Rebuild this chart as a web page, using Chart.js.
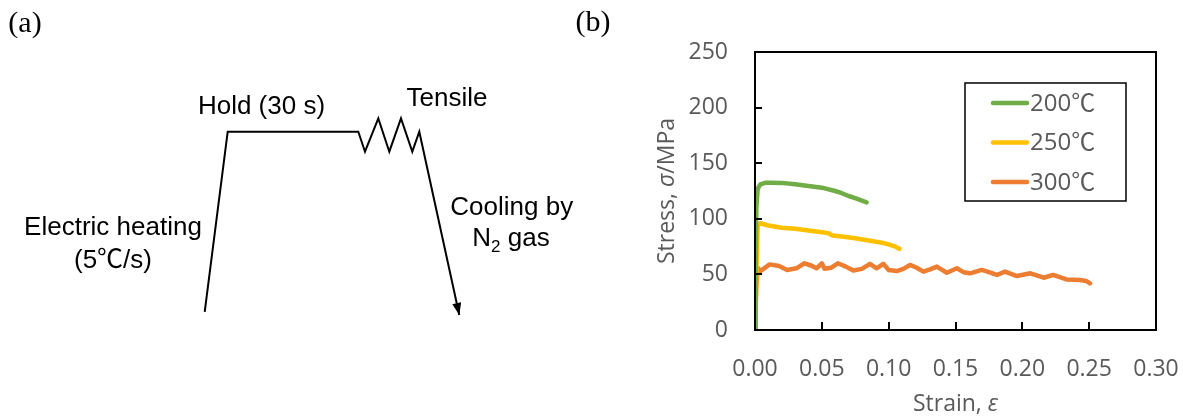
<!DOCTYPE html>
<html>
<head>
<meta charset="utf-8">
<script src="https://cdn.jsdelivr.net/npm/chart.js@4.4.0/dist/chart.umd.min.js"></script>
<style>
  html, body { margin: 0; padding: 0; background: #fff; }
  #wrap { position: relative; width: 1183px; height: 419px; }
  #chartA { position: absolute; left: 0; top: 0; }
  #chartB { position: absolute; left: 560px; top: 0; }
</style>
</head>
<body>
<div id="wrap">
  <canvas id="chartA" width="600" height="419"></canvas>
  <canvas id="chartB" width="623" height="419"></canvas>
</div>
<script>
// (a) process schematic: time offset vs temperature (hold level = 100)
const profileTime = [0, 23, 153.6, 160.3, 173.6, 184.6, 196.3, 207.6, 214.6, 254.6];
const profileTemp = [0, 100, 100, 88.9, 107.4, 88.9, 107.4, 88.9, 100, -1.7];

// labels of the schematic, placed in the same time / temperature units
const noteText = ["Hold (30 s)", "Tensile", "Electric heating", "(5℃/s)", "Cooling by", "N₂ gas"];
const noteTime = [56.8, 242.3, -91.7, -91.7, 307, 306.3];
const noteTemp = [113.7, 118.1, 46.9, 28.3, 57.7, 40.5];

// (b) stress-strain curves
const seriesLabels = ["200℃", "250℃", "300℃"];
const seriesColors = ["#70AD47", "#FFC000", "#ED7D31"];

const strain200 = [0, 0.0005, 0.001, 0.002, 0.004, 0.008, 0.012, 0.02, 0.03, 0.04, 0.05, 0.06, 0.065, 0.07, 0.075, 0.08, 0.0835];
const stress200 = [0, 60, 110, 127, 131, 132.5, 132.5, 132.3, 131, 129.5, 128, 125, 123, 120.5, 118.5, 116.3, 114.8];

const strain250 = [0, 0.001, 0.002, 0.004, 0.01, 0.02, 0.03, 0.04, 0.05, 0.055, 0.058, 0.065, 0.075, 0.085, 0.095, 0.1, 0.105, 0.108];
const stress250 = [0, 50, 94, 96, 94, 92, 91, 89.5, 88, 87, 85, 84, 82.5, 80.5, 78.5, 77, 75, 73];

const strain300 = [0, 0.001, 0.002, 0.004, 0.011, 0.018, 0.024, 0.031, 0.037, 0.042, 0.046, 0.05, 0.052, 0.057, 0.062, 0.068, 0.0735, 0.08, 0.086, 0.091, 0.096, 0.1, 0.106, 0.111, 0.116, 0.121, 0.126, 0.131, 0.136, 0.1435, 0.151, 0.156, 0.161, 0.1696, 0.175, 0.181, 0.187, 0.196, 0.206, 0.216, 0.223, 0.233, 0.243, 0.248, 0.2506];
const stress300 = [0, 40, 56, 53, 59, 57.5, 54, 55.5, 60, 58, 55.5, 60, 55, 56, 60, 57, 53.5, 55, 59.5, 55.5, 59.5, 54, 53, 55, 58.5, 56, 52.5, 54.5, 57, 51.5, 55.5, 52, 51, 54, 52, 49.5, 52.5, 48.5, 51, 47, 49.5, 45.5, 45, 44, 42];

const sansFamily = '"Open Sans", "Noto Sans CJK JP", sans-serif';
const arialFamily = '"Liberation Sans", "Noto Sans CJK JP", sans-serif';
const grey = "#595959";

function toPoints(xs, ys) {
  return xs.map((x, i) => ({ x: x, y: ys[i] }));
}

// draw text made of parts with different fonts, centred on (cx, cy)
function drawParts(ctx, parts, cx, cy) {
  let total = 0;
  parts.forEach(p => { ctx.font = p.font; p.w = ctx.measureText(p.text).width; total += p.w; });
  let x = cx - total / 2;
  ctx.textAlign = "left";
  ctx.textBaseline = "middle";
  parts.forEach(p => {
    ctx.font = p.font;
    ctx.fillText(p.text, x, cy + (p.dy || 0));
    x += p.w;
  });
}

// subscript digits become small lowered digits
function noteParts(text) {
  const parts = [];
  let buf = "";
  for (const ch of text) {
    if (ch === "₂") {
      if (buf) parts.push({ text: buf, font: "26px " + arialFamily });
      buf = "";
      parts.push({ text: "2", font: "17px " + arialFamily, dy: 8 });
    } else {
      buf += ch;
    }
  }
  if (buf) parts.push({ text: buf, font: "26px " + arialFamily });
  return parts;
}

const notesPlugin = {
  id: "notes",
  afterDraw(chart) {
    const ctx = chart.ctx;
    const xs = chart.scales.x, ys = chart.scales.y;
    ctx.save();
    ctx.fillStyle = "#000";
    noteText.forEach((t, i) => {
      drawParts(ctx, noteParts(t), xs.getPixelForValue(noteTime[i]), ys.getPixelForValue(noteTemp[i]));
    });
    ctx.font = '30px "Liberation Serif", serif';
    ctx.textAlign = "center";
    ctx.textBaseline = "middle";
    ctx.fillText("(a)", 25, 24);
    ctx.restore();
  }
};

const arrowPlugin = {
  id: "arrowHead",
  afterDatasetsDraw(chart) {
    const pts = chart.getDatasetMeta(0).data;
    const a = pts[pts.length - 2], b = pts[pts.length - 1];
    const ang = Math.atan2(b.y - a.y, b.x - a.x);
    const len = 12, half = 4.5;
    const ctx = chart.ctx;
    ctx.save();
    ctx.translate(b.x, b.y);
    ctx.rotate(ang);
    ctx.beginPath();
    ctx.moveTo(0, 0);
    ctx.lineTo(-len, -half);
    ctx.lineTo(-len, half);
    ctx.closePath();
    ctx.fillStyle = "#000";
    ctx.fill();
    ctx.restore();
  }
};

new Chart(document.getElementById("chartA"), {
  type: "line",
  data: {
    datasets: [{
      data: toPoints(profileTime, profileTemp),
      borderColor: "#000",
      borderWidth: 2,
      pointRadius: 0,
      tension: 0,
      borderJoinStyle: "miter",
      clip: false
    }]
  },
  options: {
    responsive: false,
    animation: false,
    layout: { padding: 0 },
    plugins: { legend: { display: false }, tooltip: { enabled: false } },
    scales: {
      x: { type: "linear", display: false, min: -204.7, max: 395.3 },
      y: { type: "linear", display: false, min: -59.35, max: 173.04 }
    }
  },
  plugins: [arrowPlugin, notesPlugin]
});

// box round the plot area, ticks pointing inwards
const framePlugin = {
  id: "frame",
  afterDatasetsDraw(chart) {
    const { ctx, chartArea: area, scales } = chart;
    ctx.save();
    ctx.strokeStyle = "#000";
    ctx.lineWidth = 2;
    ctx.strokeRect(area.left, area.top, area.right - area.left, area.bottom - area.top);
    ctx.beginPath();
    scales.x.ticks.forEach(t => {
      const px = Math.round(scales.x.getPixelForValue(t.value));
      ctx.moveTo(px, area.bottom);
      ctx.lineTo(px, area.bottom - 8);
    });
    scales.y.ticks.forEach(t => {
      const py = Math.round(scales.y.getPixelForValue(t.value));
      ctx.moveTo(area.left, py);
      ctx.lineTo(area.left + 7, py);
    });
    ctx.stroke();

    // axis titles
    ctx.fillStyle = grey;
    drawParts(ctx, [
      { text: "Strain, ", font: "23px " + sansFamily },
      { text: "ε", font: "italic 23px " + sansFamily }
    ], (area.left + area.right) / 2, 404);
    ctx.translate(107, (area.top + area.bottom) / 2);
    ctx.rotate(-Math.PI / 2);
    drawParts(ctx, [
      { text: "Stress, ", font: "23px " + sansFamily },
      { text: "σ", font: "italic 23px " + sansFamily },
      { text: "/MPa", font: "23px " + sansFamily }
    ], 0, 0);
    ctx.restore();

    ctx.save();
    ctx.fillStyle = "#000";
    ctx.font = '30px "Liberation Serif", serif';
    ctx.textAlign = "center";
    ctx.textBaseline = "middle";
    ctx.fillText("(b)", 33, 23);
    ctx.restore();
  }
};

const legendBoxPlugin = {
  id: "legendBox",
  afterDraw(chart) {
    const { ctx, chartArea: area } = chart;
    const w = 161, h = 118;
    const left = area.right - 30 - w, top = area.top + 31;
    ctx.save();
    ctx.fillStyle = "#fff";
    ctx.fillRect(left, top, w, h);
    ctx.strokeStyle = "#000";
    ctx.lineWidth = 1.5;
    ctx.strokeRect(left, top, w, h);
    chart.data.datasets.forEach((ds, i) => {
      const y = top + 20 + i * 39.5;
      ctx.beginPath();
      ctx.strokeStyle = ds.borderColor;
      ctx.lineWidth = 4.5;
      ctx.lineCap = "round";
      ctx.moveTo(left + 28, y);
      ctx.lineTo(left + 62, y);
      ctx.stroke();
      ctx.fillStyle = grey;
      ctx.font = "24px " + sansFamily;
      ctx.textAlign = "left";
      ctx.textBaseline = "middle";
      ctx.fillText(ds.label, left + 65, y + 1);
    });
    ctx.restore();
  }
};

const tickFont = { family: sansFamily, size: 23 };

new Chart(document.getElementById("chartB"), {
  type: "line",
  data: {
    datasets: [
      { label: seriesLabels[0], data: toPoints(strain200, stress200), borderColor: seriesColors[0] },
      { label: seriesLabels[1], data: toPoints(strain250, stress250), borderColor: seriesColors[1] },
      { label: seriesLabels[2], data: toPoints(strain300, stress300), borderColor: seriesColors[2] }
    ]
  },
  options: {
    responsive: false,
    animation: false,
    layout: { padding: { top: 52, right: 27, left: 0, bottom: 0 } },
    plugins: { legend: { display: false }, tooltip: { enabled: false } },
    elements: {
      point: { radius: 0 },
      line: { borderWidth: 4.5, tension: 0, borderCapStyle: "round", borderJoinStyle: "round" }
    },
    scales: {
      x: {
        type: "linear", min: 0, max: 0.3,
        ticks: { stepSize: 0.05, padding: 26, color: grey, font: tickFont, maxRotation: 0, autoSkip: false,
                 callback: v => v.toFixed(2) },
        grid: { display: false, drawTicks: false },
        border: { display: false },
        afterFit: s => { s.height = 89; s.paddingLeft = 0; s.paddingRight = 0; }
      },
      y: {
        type: "linear", min: 0, max: 250,
        ticks: { stepSize: 50, padding: 27, color: grey, font: tickFont },
        grid: { display: false, drawTicks: false },
        border: { display: false },
        afterFit: s => { s.width = 195; s.paddingTop = 0; s.paddingBottom = 0; }
      }
    }
  },
  plugins: [framePlugin, legendBoxPlugin]
});
</script>
</body>
</html>
